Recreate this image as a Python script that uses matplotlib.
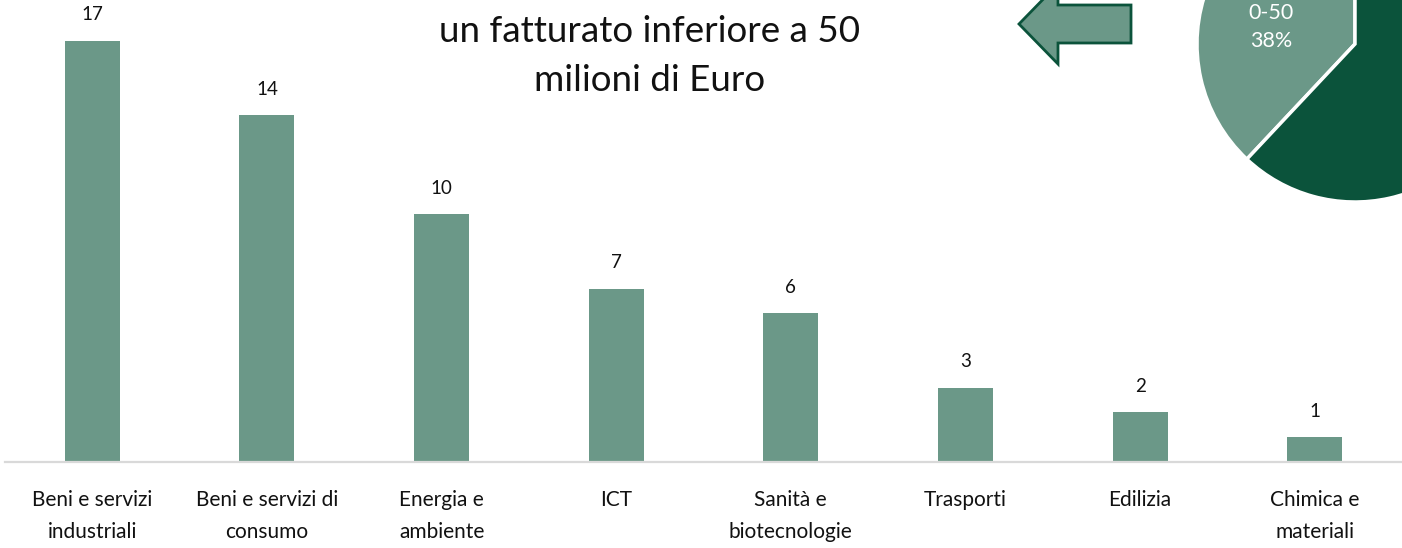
import numpy as np
import matplotlib
matplotlib.use('Agg')
import matplotlib.pyplot as plt
from matplotlib.patches import FancyArrow

plt.rcParams['font.family'] = ['Lato', 'DejaVu Sans']

#---------dati---------#
categorie = ['Beni e servizi\nindustriali', 'Beni e servizi di\nconsumo', 'Energia e\nambiente', 'ICT',
             'Sanità e\nbiotecnologie', 'Trasporti', 'Edilizia', 'Chimica e\nmateriali']
valori = [17, 14, 10, 7, 6, 3, 2, 1]
torta_etichette = ['0-50\n38%', '']
torta_valori = [38, 62]

verde_chiaro = '#6b9888'
verde_scuro = '#0b533b'

W, H = 1402, 548
fig = plt.figure(figsize=(W / 100, H / 100), dpi=100)

# grafico a barre
ax = fig.add_axes([5 / W, 1 - 462 / H, (1402 - 5) / W, 462 / H])
x = np.arange(len(valori))
bars = ax.bar(x, valori, width=0.315, color=verde_chiaro, zorder=2)
for b, v in zip(bars, valori):
    ax.annotate(str(v), (b.get_x() + b.get_width() / 2, v), xytext=(0, 18.5),
                textcoords='offset points', ha='center', va='center', fontsize=13.5, color='#111111')
ax.set_xlim(-0.5, len(valori) - 0.5)
ax.set_ylim(0, 18.64)
ax.set_xticks(x)
ax.set_xticklabels(categorie, fontsize=15, color='#111111', linespacing=1.75)
ax.tick_params(axis='x', length=0, pad=20)
ax.set_yticks([])
for s in ['top', 'right', 'left']:
    ax.spines[s].set_visible(False)
ax.spines['bottom'].set_color('#d9d9d9')
ax.spines['bottom'].set_linewidth(1.6)
ax.patch.set_alpha(0)

# titolo (tagliato in alto)
fig.text(650 / W, 1 - 56 / H, 'un fatturato inferiore a 50\nmilioni di Euro', ha='center', va='center',
         fontsize=26.5, color='#111111', linespacing=1.62)

# freccia
ov = fig.add_axes([0, 0, 1, 1])
ov.set_xlim(0, W)
ov.set_ylim(0, H)
ov.axis('off')
ov.add_patch(FancyArrow(1131, H - 24, -(1131 - 1019), 0, width=38, head_width=80, head_length=39,
                        length_includes_head=True, facecolor=verde_chiaro, edgecolor=verde_scuro, linewidth=2))

# torta
r = 158
cx, cy = 1355, 44
pax = fig.add_axes([(cx - r) / W, (H - cy - r) / H, 2 * r / W, 2 * r / H])
wedges, texts = pax.pie(torta_valori, colors=[verde_chiaro, verde_scuro], startangle=90, counterclock=True,
                        wedgeprops=dict(edgecolor='white', linewidth=2.5))
pax.set_xlim(-1, 1)
pax.set_ylim(-1, 1)
pax.text(-0.53, 0.11, torta_etichette[0], ha='center', va='center', color='white', fontsize=15.5, linespacing=1.5)

plt.savefig('out.png', dpi=100)
